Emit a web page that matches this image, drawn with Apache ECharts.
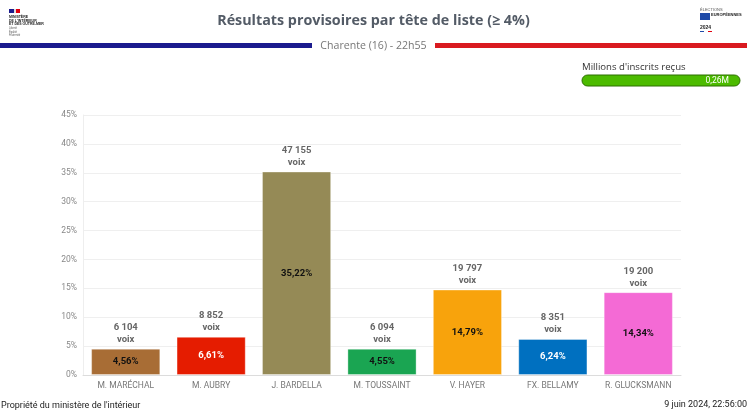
<!DOCTYPE html>
<html>
<head>
<meta charset="utf-8">
<script src="https://cdn.jsdelivr.net/npm/echarts@6/dist/echarts.min.js"></script>
<style>
html,body{margin:0;padding:0;background:#fff;}
#c{width:747px;height:410px;}
</style>
</head>
<body>
<div id="c"></div>
<script>
var categories = ['M. MARÉCHAL','M. AUBRY','J. BARDELLA','M. TOUSSAINT','V. HAYER','FX. BELLAMY','R. GLUCKSMANN'];
var pctValues = [4.56, 6.61, 35.22, 4.55, 14.79, 6.24, 14.34];
var voixValues = [6104, 8852, 47155, 6094, 19797, 8351, 19200];
var barColors = ['#a86d35','#e51c00','#958a56','#1aa552','#f8a30c','#0070c0','#f46ad5'];
var insideLabelColors = ['#111','#fff','#111','#111','#111','#fff','#111'];
var yTicks = [0,5,10,15,20,25,30,35,40,45];

function fmtThousands(n){ return String(n).replace(/\B(?=(\d{3})+(?!\d))/g, ' '); }
function fmtPct(v){ return v.toFixed(2).replace('.', ',') + '%'; }

var chart = echarts.init(document.getElementById('c'));
var option = {
  animation: false,
  grid: {left: 83, right: 66, top: 115, bottom: 35},
  xAxis: {
    type: 'category',
    data: categories,
    axisTick: {show: false},
    axisLine: {lineStyle: {color: '#dcdcdc'}},
    axisLabel: {color: '#777', fontSize: 8.5, fontFamily: 'Roboto', margin: 6, interval: 0}
  },
  yAxis: {
    type: 'value',
    min: yTicks[0],
    max: yTicks[yTicks.length-1],
    interval: 5,
    axisLine: {show: true, lineStyle: {color: '#eeeeee'}},
    splitLine: {lineStyle: {color: '#efefef'}},
    axisLabel: {color: '#888', fontSize: 8.5, fontFamily: 'Roboto', formatter: '{value}%', margin: 6}
  },
  series: [
    {
      type: 'bar',
      barWidth: '81%',
      data: pctValues.map(function(v,i){
        return {value: v, itemStyle: {color: barColors[i]}, label: {color: insideLabelColors[i]}};
      }),
      itemStyle: {borderColor: 'rgba(255,255,255,0.35)', borderWidth: 1},
      label: {
        show: true, position: 'inside', fontWeight: 'bold', fontSize: 9.5, fontFamily: 'Roboto',
        formatter: function(p){ return fmtPct(p.value); }
      }
    },
    {
      type: 'bar',
      barWidth: '81%',
      barGap: '-100%',
      silent: true,
      data: pctValues,
      itemStyle: {color: 'rgba(0,0,0,0)'},
      label: {
        show: true, position: 'top', distance: 3, fontWeight: 'bold', fontSize: 9.5, fontFamily: 'Roboto',
        color: '#666', lineHeight: 12,
        formatter: function(p){ return fmtThousands(voixValues[p.dataIndex]) + '\nvoix'; }
      }
    }
  ],
  graphic: [
    {type:'text', x:373.5, y:21, style:{text:'Résultats provisoires par tête de liste (≥ 4%)', font:'bold 14.3px "Open Sans"', fill:'#535b66', align:'center', verticalAlign:'middle'}},
    {type:'rect', shape:{x:0,y:43,width:312,height:5}, style:{fill:'#1b1b8e'}},
    {type:'rect', shape:{x:435,y:43,width:312,height:5}, style:{fill:'#d91a20'}},
    {type:'text', x:373.5, y:46, style:{text:'Charente (16) - 22h55', font:'10.6px "Open Sans"', fill:'#777', align:'center', verticalAlign:'middle'}},
    // left logo
    {type:'rect', shape:{x:9,y:9,width:5,height:4}, style:{fill:'#1b1b8e'}},
    {type:'rect', shape:{x:14,y:9,width:2,height:4}, style:{fill:'#ddd'}},
    {type:'rect', shape:{x:16,y:9,width:4,height:4}, style:{fill:'#e1000f'}},
    {type:'text', x:9, y:15, style:{text:'MINISTÈRE\nDE L\'INTÉRIEUR\nET DES OUTRE-MER', font:'bold 3.5px sans-serif', fill:'#222', lineHeight:3.8}},
    {type:'text', x:9, y:27, style:{text:'Liberté\nÉgalité\nFraternité', font:'2.6px sans-serif', fill:'#555', lineHeight:3.2}},
    // right logo
    {type:'text', x:700, y:8, style:{text:'ÉLECTIONS', font:'4px sans-serif', fill:'#555'}},
    {type:'rect', shape:{x:700,y:13,width:10,height:7}, style:{fill:'#1f4aa8'}},
    {type:'text', x:711, y:13, style:{text:'EUROPÉENNES', font:'bold 4px sans-serif', fill:'#222'}},
    {type:'text', x:700, y:25, style:{text:'2024', font:'bold 5px sans-serif', fill:'#222'}},
    {type:'rect', shape:{x:700,y:31,width:4,height:1}, style:{fill:'#1f4aa8'}},
    {type:'rect', shape:{x:708,y:31,width:4,height:1}, style:{fill:'#e1000f'}},
    // progress
    {type:'text', x:582, y:67, style:{text:'Millions d\'inscrits reçus', font:'9.6px "Open Sans"', fill:'#333', verticalAlign:'middle'}},
    {type:'rect', shape:{x:582,y:75,width:158,height:11,r:5.5}, style:{fill:'#4cbb00', stroke:'#2d6e00', lineWidth:1}},
    {type:'text', x:729, y:80.5, style:{text:'0,26M', font:'8.5px Roboto', fill:'#fff', align:'right', verticalAlign:'middle'}},
    // footer
    {type:'text', x:1, y:406, style:{text:'Propriété du ministère de l\'intérieur', font:'9px Roboto', fill:'#222', verticalAlign:'middle'}},
    {type:'text', x:747, y:405, style:{text:'9 juin 2024, 22:56:00', font:'9px Roboto', fill:'#222', align:'right', verticalAlign:'middle'}}
  ]
};
chart.setOption(option);
</script>
</body>
</html>
